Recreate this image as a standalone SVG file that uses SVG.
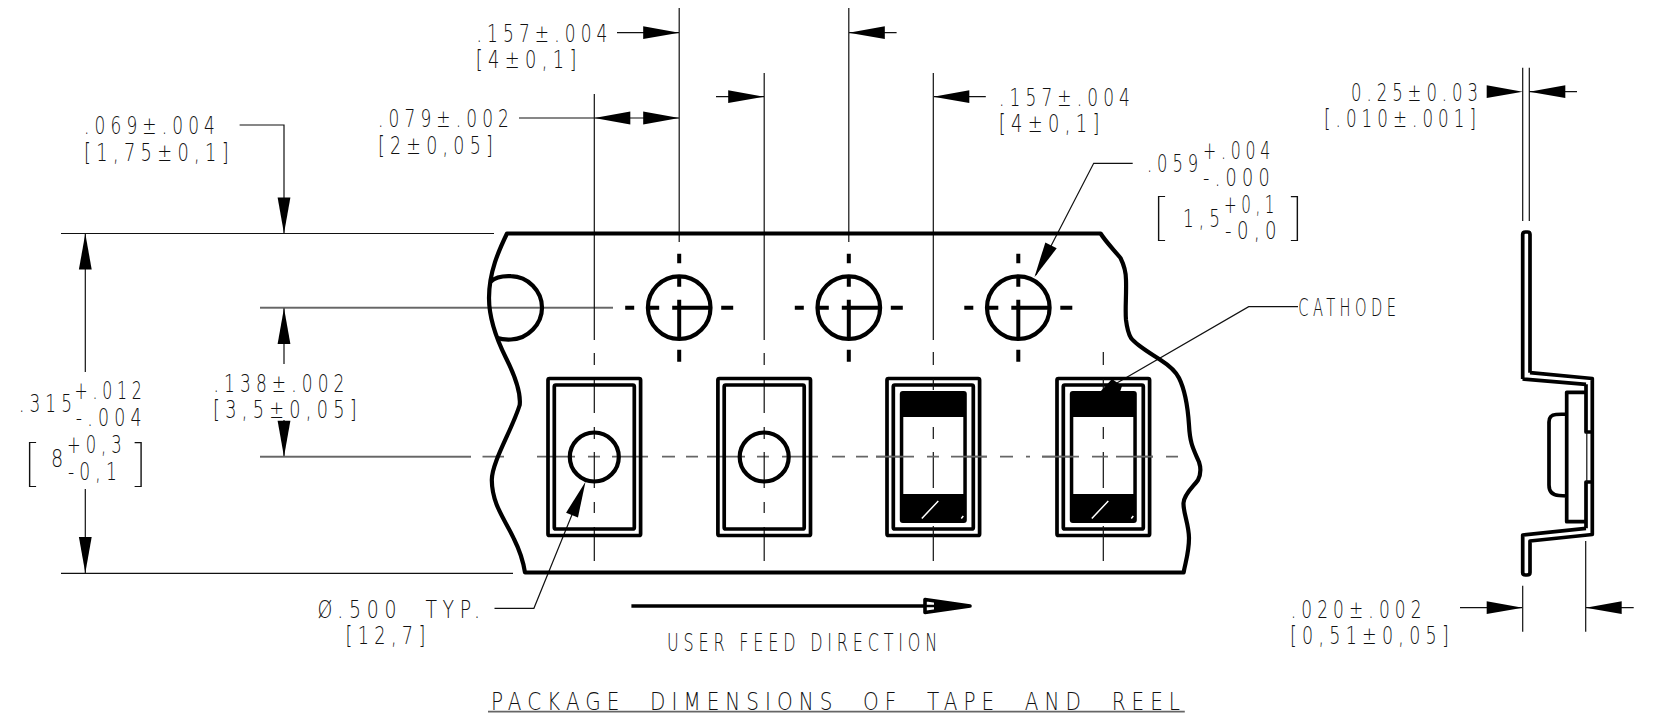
<svg xmlns="http://www.w3.org/2000/svg" xmlns:xlink="http://www.w3.org/1999/xlink" width="1656" height="715" viewBox="0 0 1656 715">
<style>
.t{font-family:"DejaVu Sans ExtraLight","DejaVu Sans","Liberation Sans",sans-serif;font-weight:200;font-size:24.5px;letter-spacing:.3em;fill:#111}
.b{font-family:"Inter","Liberation Sans",sans-serif;font-weight:100;font-size:49px;fill:#111}
.thin{fill:none;stroke:#111;stroke-width:1.2}
.gray{fill:none;stroke:#666;stroke-width:1.7}
.thick{fill:none;stroke:#000;stroke-width:3.7;stroke-linejoin:round}
.bold{fill:none;stroke:#000;stroke-width:4.2}
.dash{fill:none;stroke:#000;stroke-width:4}
#labels{opacity:.999}
</style>
<defs>
<polygon id="ah" points="0,0 -36,-6.4 -36,6.4" fill="#000"/>
<g id="hole">
<circle cx="0" cy="0" r="31.3" class="bold"/>
<path class="dash" d="M-54,0H-45M-32,0H-20M-7,0H30M42,0H54M0,-54V-44.500M0,-31V-21M0,-8V30M0,42V54"/>
</g>
<path id="pc" class="thin" d="M0,-104V-92M0,-78V-44M0,-30V-18M0,-5V31M0,45V56M0,70V104"/>
<g id="pocket">
<rect x="-46.300" y="-78.500" width="92.600" height="157" rx="1.500" class="thick"/>
<rect x="-40" y="-72" width="80" height="144" rx="1.500" class="thick"/>
</g>
<g id="die">
<rect x="-33.500" y="-66" width="67" height="132" rx="3" fill="#000"/>
<rect x="-30" y="-40" width="60" height="77" fill="#fff"/>
<path d="M-11.500,61.500L5,44M28,61.500L30,59" stroke="#fff" stroke-width="1.500" fill="none"/>
</g>
</defs>

<g id="connectors">
<path class="thin" d="M61,233.500H494M61,573.300H513M85.300,233.500V372M85.300,489V573M239.600,125H284V233M284,308V364M284,420V456.700M260,307.700H613M260,456.700H471"/>
<path class="gray" d="M260,307.700H613M260,456.700H471M482.500,456.700H504"/>
<path class="gray" d="M537,456.700H575M588,456.700H600M612,456.700H648M662,456.700H675M686,456.700H698M707,456.700H745M757,456.700H769M782,456.700H818M832,456.700H845M856,456.700H868M876,456.700H914M927,456.700H939M951,456.700H987M1000,456.700H1013M1026,456.700H1030M1042,456.700H1079M1092,456.700H1108M1116,456.700H1153M1166,456.700H1178"/>
<path class="thin" d="M594.300,94V340M679.200,8V242M764.200,73V340M848.800,8V242M933.300,73V340"/>
<path class="thin" d="M617,32.700H679M849,32.700H896.600M519,118H679M716,96.700H764M934,96.700H985.800"/>
<path class="thin" d="M1132.700,163.300H1093.700L1036,275M1298,306.700H1248.700L1110,387M494.500,608.300H533.900L580,495"/>
<path class="thin" d="M1522.700,67.700V221M1529.300,67.700V221M1529,91.700H1577M1460,607.700H1522M1586,607.700H1633.700M1522.700,585.700V631.700M1585.700,541V631.700"/>
<path class="gray" d="M488,711.700H1184.800"/>
<use xlink:href="#ah" href="#ah" transform="translate(284,233.500) rotate(90)"/>
<use xlink:href="#ah" href="#ah" transform="translate(85.300,233.500) rotate(-90)"/>
<use xlink:href="#ah" href="#ah" transform="translate(85.300,573) rotate(90)"/>
<use xlink:href="#ah" href="#ah" transform="translate(284,308) rotate(-90)"/>
<use xlink:href="#ah" href="#ah" transform="translate(284,456.700) rotate(90)"/>
<use xlink:href="#ah" href="#ah" transform="translate(679.200,32.700)"/>
<use xlink:href="#ah" href="#ah" transform="translate(848.800,32.700) rotate(180)"/>
<use xlink:href="#ah" href="#ah" transform="translate(679.200,118)"/>
<use xlink:href="#ah" href="#ah" transform="translate(594.300,118) rotate(180)"/>
<use xlink:href="#ah" href="#ah" transform="translate(764.200,96.700)"/>
<use xlink:href="#ah" href="#ah" transform="translate(933.300,96.700) rotate(180)"/>
<use xlink:href="#ah" href="#ah" transform="translate(1034.400,277.300) rotate(117.500)"/>
<use xlink:href="#ah" href="#ah" transform="translate(585.500,481.700) rotate(-68)"/>
<use xlink:href="#ah" href="#ah" transform="translate(1522.700,91.700)"/>
<use xlink:href="#ah" href="#ah" transform="translate(1529.300,91.700) rotate(180)"/>
<use xlink:href="#ah" href="#ah" transform="translate(1522.700,607.700)"/>
<use xlink:href="#ah" href="#ah" transform="translate(1585.700,607.700) rotate(180)"/>
</g>

<g id="tape">
<path class="bold" stroke-linejoin="round" d="M507,233.500H1100.600C1106,242 1114,250 1120.500,258C1124,265 1126,271 1126,280C1126.500,295 1125,310 1126,320C1127,328 1128,333 1131,338C1136,345 1150,353 1160.600,360C1170,366 1176,372 1179,378C1186,392 1188,410 1189,425C1190,445 1194,450 1199,462C1201,468 1201,474 1198,480C1194,486 1184,494 1183.500,503C1183,512 1189,525 1189,538C1189,552 1186,560 1183.600,572.500H525C523,560 520,551 514,539C506,521 492,505 491.800,480C491.800,462 512,430 519.700,405C521,393 516,378 506,358C498,342 489,320 489,298C489,272 499,250 507,233.500Z"/>
<path class="bold" d="M490.600,281.700C496,276.500 503,275.800 511,276.200C528,276.500 542,291 542,307.700C542,324 528,339 511,339.500C506,339.700 501,339.300 497.500,338"/>
</g>

<g id="holes">
<use xlink:href="#hole" href="#hole" transform="translate(679.200,307.700)"/>
<use xlink:href="#hole" href="#hole" transform="translate(848.800,307.700)"/>
<use xlink:href="#hole" href="#hole" transform="translate(1018.300,307.700)"/>
</g>

<g id="pocket-1">
<use xlink:href="#pc" href="#pc" transform="translate(594.300,457)"/>
<use xlink:href="#pocket" href="#pocket" transform="translate(594.300,457)"/>
<circle cx="594.300" cy="457" r="24.500" class="bold"/>
</g>
<g id="pocket-2">
<use xlink:href="#pc" href="#pc" transform="translate(764.200,457)"/>
<use xlink:href="#pocket" href="#pocket" transform="translate(764.200,457)"/>
<circle cx="764.200" cy="457" r="24.500" class="bold"/>
</g>
<g id="pocket-3">
<use xlink:href="#die" href="#die" transform="translate(933.300,457)"/>
<use xlink:href="#pocket" href="#pocket" transform="translate(933.300,457)"/>
<path class="thin" d="M933.300,352V365M933.300,379V390M933.300,427V439M933.300,452V488M933.300,526V561"/>
<path class="gray" d="M876,456.700H914M927,456.700H939M951,456.700H987"/>
</g>
<g id="pocket-4">
<use xlink:href="#die" href="#die" transform="translate(1103.300,457)"/>
<use xlink:href="#pocket" href="#pocket" transform="translate(1103.300,457)"/>
<path class="thin" d="M1103.300,352V365M1103.300,379V390M1103.300,427V439M1103.300,452V488M1103.300,526V561"/>
<path class="gray" d="M1042,456.700H1079M1092,456.700H1108M1116,456.700H1153"/>
<polygon points="1093,398 1100,392 1112,379 1122,386 1120,392" fill="#000"/>
</g>

<g id="feed-arrow">
<path d="M631.400,606H925" stroke="#000" stroke-width="3.600" fill="none"/>
<path d="M970,606L925,599.500V612.500Z" fill="#fff" stroke="#000" stroke-width="3.600" stroke-linejoin="round"/>
<polygon points="971,606 934,600.500 934,611.500" fill="#000"/>
<path d="M925,606H945" stroke="#000" stroke-width="2.500" fill="none"/>
</g>

<g id="side-view">
<path class="thick" d="M1522.500,379L1586,384.300M1530,372.700L1592.300,378.500V534.500L1530,541V572.500Q1530,575 1527,575H1525.500Q1522.700,575 1522.700,572.500V535L1586,528.300M1522.700,379V234.500Q1522.700,232 1525.500,232H1527.500Q1530,232 1530,234.500V372.700"/>
<path class="thick" d="M1586,384.300V432H1592M1586,528.300V482H1592"/>
<path d="M1586.800,432V482" stroke="#111" stroke-width="1.200" fill="none"/>
<path class="thick" d="M1586,392.300H1566.700V521.700H1586M1566.700,414L1556,414.500Q1549,415 1549,422V485Q1549,495 1559,495.500L1566.700,496"/>
</g>

<g id="labels">
<text class="t" x="476.500" y="42" textLength="136" lengthAdjust="spacingAndGlyphs">.157±.004</text>
<text class="t" x="475.700" y="68" textLength="106" lengthAdjust="spacingAndGlyphs">[4±0,1]</text>
<text class="t" x="84" y="134" textLength="136" lengthAdjust="spacingAndGlyphs">.069±.004</text>
<text class="t" x="84" y="161" textLength="150" lengthAdjust="spacingAndGlyphs">[1,75±0,1]</text>
<text class="t" x="378" y="127" textLength="136" lengthAdjust="spacingAndGlyphs">.079±.002</text>
<text class="t" x="378" y="154" textLength="120" lengthAdjust="spacingAndGlyphs">[2±0,05]</text>
<text class="t" x="999" y="105.700" textLength="136" lengthAdjust="spacingAndGlyphs">.157±.004</text>
<text class="t" x="998.800" y="132" textLength="106" lengthAdjust="spacingAndGlyphs">[4±0,1]</text>
<text class="t" x="1147" y="172" textLength="56" lengthAdjust="spacingAndGlyphs">.059</text>
<text class="t" x="1203" y="159" textLength="72" lengthAdjust="spacingAndGlyphs">+.004</text>
<text class="t" x="1203" y="185.700" textLength="72" lengthAdjust="spacingAndGlyphs">-.000</text>
<text class="b" x="1150" y="233.500" textLength="20" lengthAdjust="spacingAndGlyphs">[</text>
<text class="t" x="1183" y="226.700" textLength="42" lengthAdjust="spacingAndGlyphs">1,5</text>
<text class="t" x="1224" y="212.700" textLength="55" lengthAdjust="spacingAndGlyphs">+0,1</text>
<text class="t" x="1225" y="239.300" textLength="57" lengthAdjust="spacingAndGlyphs">-0,0</text>
<text class="b" x="1286" y="233.500" textLength="20" lengthAdjust="spacingAndGlyphs">]</text>
<text class="t" x="1298.300" y="315.700" textLength="102" lengthAdjust="spacingAndGlyphs">CATHODE</text>
<text class="t" x="1351" y="100.700" textLength="132" lengthAdjust="spacingAndGlyphs">0.25±0.03</text>
<text class="t" x="1324" y="127.300" textLength="157" lengthAdjust="spacingAndGlyphs">[.010±.001]</text>
<text class="t" x="1290.700" y="617.700" textLength="136" lengthAdjust="spacingAndGlyphs">.020±.002</text>
<text class="t" x="1290" y="644.300" textLength="164" lengthAdjust="spacingAndGlyphs">[0,51±0,05]</text>
<text class="t" x="19" y="412" textLength="58" lengthAdjust="spacingAndGlyphs">.315</text>
<text class="t" x="74.600" y="399.300" textLength="72" lengthAdjust="spacingAndGlyphs">+.012</text>
<text class="t" x="75.800" y="425.700" textLength="71" lengthAdjust="spacingAndGlyphs">-.004</text>
<text class="b" x="21" y="479.500" textLength="20" lengthAdjust="spacingAndGlyphs">[</text>
<text class="t" x="51" y="466.700" textLength="18" lengthAdjust="spacingAndGlyphs">8</text>
<text class="t" x="67" y="452.700" textLength="59.500" lengthAdjust="spacingAndGlyphs">+0,3</text>
<text class="t" x="68" y="480" textLength="54" lengthAdjust="spacingAndGlyphs">-0,1</text>
<text class="b" x="129.700" y="479.500" textLength="20" lengthAdjust="spacingAndGlyphs">]</text>
<text class="t" x="213.500" y="391.700" textLength="136" lengthAdjust="spacingAndGlyphs">.138±.002</text>
<text class="t" x="213" y="418.300" textLength="149" lengthAdjust="spacingAndGlyphs">[3,5±0,05]</text>
<text class="t" x="317.600" y="617.700" textLength="168" lengthAdjust="spacingAndGlyphs" xml:space="preserve">Ø.500  TYP.</text>
<text class="t" x="345.600" y="644.300" textLength="85" lengthAdjust="spacingAndGlyphs">[12,7]</text>
<text class="t" x="667" y="651" textLength="275" lengthAdjust="spacingAndGlyphs">USER FEED DIRECTION</text>
<text class="t" x="491" y="710" textLength="695" lengthAdjust="spacingAndGlyphs" xml:space="preserve">PACKAGE  DIMENSIONS  OF  TAPE  AND  REEL</text>
</g>
</svg>
